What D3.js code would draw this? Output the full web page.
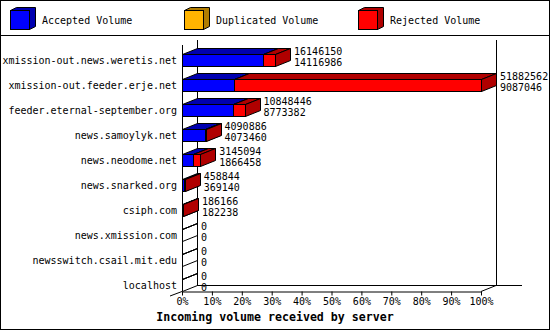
<!DOCTYPE html>
<html>
<head>
<meta charset="utf-8">
<script src="https://cdn.jsdelivr.net/npm/d3@7"></script>
<style>
  body { margin: 0; background: #fff; }
  text { font-family: "DejaVu Sans Mono", monospace; font-size: 10px; fill: #000; }
</style>
</head>
<body>
<div id="chart"></div>
<script>
// Data
const servers = [
  "xmission-out.news.weretis.net",
  "xmission-out.feeder.erje.net",
  "feeder.eternal-september.org",
  "news.samoylyk.net",
  "news.neodome.net",
  "news.snarked.org",
  "csiph.com",
  "news.xmission.com",
  "newsswitch.csail.mit.edu",
  "localhost"
];
const totalVolume = [16146150, 51882562, 10848446, 4090886, 3145094, 458844, 186166, 0, 0, 0];
const acceptedVolume = [14116986, 9087046, 8773382, 4073460, 1866458, 369140, 182238, 0, 0, 0];
const duplicatedVolume = [0, 0, 0, 0, 0, 0, 0, 0, 0, 0];
const legendLabels = ["Accepted Volume", "Duplicated Volume", "Rejected Volume"];
const percentTicks = [0, 10, 20, 30, 40, 50, 60, 70, 80, 90, 100];

// Configuration
const W = 550, H = 330;
const plotLeft = 182, plotRight = 481, plotTop = 47, plotBottom = 297;
const dx = 15, dy = -6;
const barH = 12;
const colors = [
  { front: "#0000ff", dark: "#0000b0" },
  { front: "#ffb400", dark: "#b07c00" },
  { front: "#ff0000", dark: "#b00000" }
];

const svg = d3.select("#chart").append("svg")
  .attr("width", W).attr("height", H);

svg.append("rect")
  .attr("x", 0.5).attr("y", 0.5).attr("width", W - 1).attr("height", H - 1)
  .attr("fill", "#fff").attr("stroke", "#000");

svg.append("line")
  .attr("x1", 0).attr("x2", W).attr("y1", 35.5).attr("y2", 35.5)
  .attr("stroke", "#000");

// cube helper (front face + top + right side)
function box(g, x0, x1, yT, c, fill = true) {
  const yB = yT + barH;
  g.append("path")
    .attr("d", `M${x0},${yT}L${x0 + dx},${yT + dy}L${x1 + dx},${yT + dy}L${x1},${yT}Z`)
    .attr("fill", fill ? c.dark : "none").attr("stroke", "#000");
  g.append("path")
    .attr("d", `M${x1},${yT}L${x1 + dx},${yT + dy}L${x1 + dx},${yB + dy}L${x1},${yB}Z`)
    .attr("fill", fill ? c.dark : "none").attr("stroke", "#000");
  if (x1 > x0) {
    g.append("rect")
      .attr("x", x0).attr("y", yT).attr("width", x1 - x0).attr("height", barH)
      .attr("fill", c.front).attr("stroke", "#000");
  }
}

// Legend
const legend = svg.append("g");
legendLabels.forEach((lab, i) => {
  const lx = 10.5 + i * 174, ly = 10.5;
  const c = colors[i];
  legend.append("path")
    .attr("d", `M${lx},${ly}L${lx + 6},${ly - 3}L${lx + 25},${ly - 3}L${lx + 25},${ly + 16}L${lx + 19},${ly + 19}L${lx + 19},${ly}Z`)
    .attr("fill", c.dark).attr("stroke", "#000");
  legend.append("rect")
    .attr("x", lx).attr("y", ly).attr("width", 19).attr("height", 19)
    .attr("fill", c.front).attr("stroke", "#000");
  legend.append("text")
    .attr("x", lx + 31.5).attr("y", 24)
    .text(lab);
});

// Scales
const x = d3.scaleLinear().domain([0, d3.max(totalVolume)]).range([plotLeft, plotRight]);
const pct = d3.scaleLinear().domain([0, 100]).range([plotLeft, plotRight]);
const y = d3.scaleBand().domain(servers).range([plotTop, plotBottom]);

// Frame lines
const frame = svg.append("g").attr("stroke", "#000").attr("fill", "none");
frame.append("line").attr("x1", plotLeft + dx + .5).attr("x2", plotLeft + dx + .5).attr("y1", 40).attr("y2", 285);
frame.append("line").attr("x1", plotRight + dx + .5).attr("x2", plotRight + dx + .5).attr("y1", 40).attr("y2", 285);
frame.append("line").attr("x1", plotLeft + dx).attr("x2", 522).attr("y1", 285.5).attr("y2", 285.5);
frame.append("line").attr("x1", plotRight).attr("y1", 291.5).attr("x2", plotRight + dx).attr("y2", 285.5);
frame.append("line").attr("x1", plotLeft).attr("y1", 291.5).attr("x2", 170).attr("y2", 296);

// Bars
const bars = svg.append("g");
servers.forEach((s, i) => {
  const yT = Math.round(y(s) + y.bandwidth() / 2 - barH / 2) + 0.5;
  const acc = acceptedVolume[i];
  const dup = duplicatedVolume[i];
  const rej = totalVolume[i] - acc - dup;
  if (totalVolume[i] === 0) {
    box(bars, plotLeft + 0.5, plotLeft + 0.5, yT, colors[2], false);
  } else {
    const x0 = Math.round(x(0)) + 0.5;
    const x1 = Math.round(x(acc)) + 0.5;
    const x2 = Math.round(x(acc + dup)) + 0.5;
    const x3 = Math.round(x(acc + dup + rej)) + 0.5;
    box(bars, x0, x1, yT, colors[0]);
    if (dup > 0) box(bars, x1, x2, yT, colors[1]);
    box(bars, x2, x3, yT, colors[2]);
  }
  const tx = x(totalVolume[i]) + dx + 4;
  bars.append("text").attr("x", tx).attr("y", yT).text(totalVolume[i]);
  bars.append("text").attr("x", tx).attr("y", yT + 11).text(acc);
});

// Left axis line (front)
frame.append("line").attr("x1", plotLeft + .5).attr("x2", plotLeft + .5).attr("y1", 45).attr("y2", 291);

// Category labels
svg.append("g").selectAll("text")
  .data(servers)
  .join("text")
  .attr("x", 177)
  .attr("y", d => y(d) + y.bandwidth() / 2 + 4)
  .attr("text-anchor", "end")
  .text(d => d);

// X axis
const xAxis = svg.append("g")
  .attr("transform", `translate(0, 291.5)`)
  .call(d3.axisBottom(pct).tickValues(percentTicks).tickFormat(d => d + "%").tickSize(4).tickPadding(2).tickSizeOuter(0));
xAxis.select(".domain").attr("stroke", "#000");
xAxis.selectAll("line").attr("stroke", "#000");
xAxis.selectAll("text")
  .attr("font-family", "DejaVu Sans Mono").attr("font-size", 10).attr("fill", "#000");

svg.append("text")
  .attr("x", 275).attr("y", 321)
  .attr("text-anchor", "middle")
  .style("font-weight", "bold")
  .style("font-size", "11.6px")
  .text("Incoming volume received by server");
</script>
</body>
</html>
